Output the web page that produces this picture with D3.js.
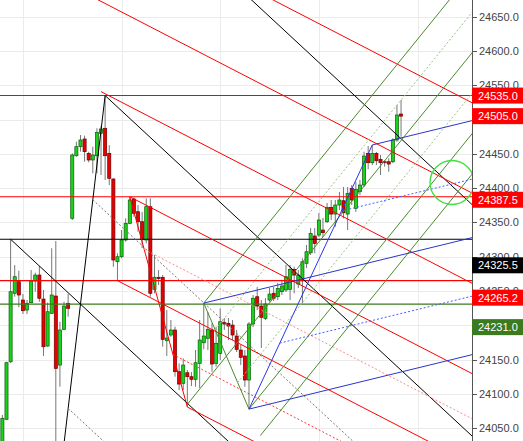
<!DOCTYPE html>
<html><head><meta charset="utf-8">
<script src="https://cdn.jsdelivr.net/npm/d3@7"></script>
<style>
html,body{margin:0;padding:0;background:#fff;}
svg{display:block;font-family:"Liberation Sans",Arial,sans-serif;}
</style></head><body>
<svg id="c" width="523" height="441"></svg>
<script>
// ---------- DATA ----------
const opens  = [24021.3,24063.1,24147.0,24246.8,24263.7,24237.0,24222.4,24233.1,24264.7,24273.4,24238.4,24169.9,24217.6,24242.8,24142.2,24194.3,24232.2,24356.1,24447.3,24460.5,24471.7,24450.8,24441.1,24447.3,24480.0,24487.3,24450.8,24413.4,24292.8,24300.1,24324.5,24348.8,24384.2,24365.7,24351.1,24324.5,24373.0,24252.6,24270.1,24270.1,24177.7,24186.0,24193.3,24132.5,24115.6,24131.0,24125.2,24121.4,24144.7,24174.7,24181.2,24193.3,24144.7,24159.3,24204.5,24203.0,24200.5,24184.5,24164.1,24155.4,24120.4,24202.0,24241.8,24228.2,24210.3,24237.0,24246.8,24241.8,24249.1,24251.6,24252.6,24281.7,24260.3,24267.2,24290.5,24305.9,24330.3,24331.7,24339.0,24351.1,24372.1,24362.3,24375.5,24381.7,24362.3,24399.8,24370.7,24394.9,24404.6,24450.8,24437.1,24450.8,24442.1,24438.6,24438.6,24438.6,24470.2,24508.1];
const highs  = [24069.4,24147.0,24325.5,24288.0,24279.7,24245.7,24237.0,24280.7,24276.8,24286.6,24251.6,24233.1,24312.4,24323.0,24205.4,24234.5,24245.7,24450.8,24467.7,24477.5,24476.5,24453.2,24460.5,24487.3,24490.6,24535.0,24462.9,24414.4,24305.1,24339.0,24356.1,24387.5,24386.4,24375.5,24365.3,24385.2,24385.2,24302.6,24280.7,24273.4,24222.4,24207.8,24198.1,24144.7,24152.0,24135.0,24132.0,24164.1,24207.8,24232.5,24219.5,24203.0,24198.1,24224.9,24210.7,24210.7,24207.8,24193.3,24171.4,24164.1,24204.9,24244.3,24255.9,24237.0,24239.9,24254.5,24255.9,24261.8,24266.1,24288.0,24288.0,24285.5,24280.7,24297.8,24317.2,24341.9,24341.9,24363.8,24356.5,24378.4,24382.8,24382.8,24394.4,24401.7,24401.7,24404.6,24409.0,24411.9,24453.2,24461.5,24463.0,24452.7,24448.4,24441.1,24443.5,24472.7,24521.2,24528.5];
const lows   = [24015.5,24062.1,24145.2,24241.8,24226.4,24216.6,24216.6,24232.2,24249.1,24234.5,24155.4,24168.9,24216.6,23927.0,24110.6,24193.3,24212.7,24353.6,24445.9,24453.2,24438.6,24437.7,24421.7,24421.7,24419.2,24411.9,24404.6,24285.5,24265.2,24297.8,24322.0,24347.3,24358.4,24336.6,24312.8,24319.6,24241.8,24246.8,24258.9,24168.9,24155.4,24183.5,24125.2,24105.8,24105.8,24081.0,24111.6,24110.6,24108.7,24165.1,24164.1,24132.5,24139.8,24149.5,24193.3,24178.7,24178.7,24161.2,24142.2,24110.6,24078.0,24197.6,24222.4,24167.0,24207.8,24234.5,24235.5,24237.0,24244.3,24248.7,24237.0,24246.8,24254.5,24232.2,24283.6,24302.6,24305.1,24328.8,24328.8,24349.2,24353.6,24343.8,24368.2,24356.1,24339.0,24375.5,24365.3,24390.0,24401.7,24427.5,24433.8,24433.8,24419.2,24431.3,24424.0,24436.3,24467.7,24475.0];
const closes = [24064.6,24145.6,24249.1,24271.0,24244.3,24221.4,24232.2,24264.7,24273.4,24239.5,24168.9,24219.9,24244.3,24137.4,24193.3,24228.2,24224.9,24448.4,24460.5,24470.2,24453.2,24441.1,24448.4,24481.4,24486.3,24447.3,24414.4,24295.3,24300.1,24324.5,24348.8,24382.8,24363.4,24351.1,24325.5,24373.0,24246.8,24270.1,24268.3,24179.7,24181.6,24193.3,24132.5,24114.5,24142.2,24125.2,24121.4,24145.6,24178.7,24184.5,24194.3,24143.7,24173.9,24205.4,24202.0,24199.1,24186.0,24165.1,24153.5,24120.4,24202.0,24239.5,24228.2,24211.8,24231.2,24245.7,24239.5,24254.0,24257.4,24271.0,24281.7,24273.4,24273.4,24292.8,24307.4,24334.2,24319.6,24353.6,24335.1,24372.1,24362.3,24375.5,24382.8,24364.2,24392.5,24382.8,24398.4,24404.6,24446.9,24437.1,24450.8,24440.0,24437.1,24437.1,24435.2,24470.2,24506.7,24505.0];

const yTicks = d3.range(24050, 24651, 50);
const gridBars = [5, 29, 53, 77, 101];

// horizontal levels
const hLevels = [24535, 24387.5, 24325.5, 24265.2, 24231];
const hColors = ["#ff0000", "#ff0000", "#000000", "#ff0000", "#3b7a1e"];

// price tags on axis
const tagValues = [24535.0, 24505.0, 24387.5, 24325.5, 24265.2, 24231.0];
const tagColors = ["#ff0000", "#ff0000", "#ff0000", "#000000", "#ff0000", "#3b7a1e"];

// pitchfork pivots: A, B, C as [barIndex, price]
const forkBlack = [[2, 24325.5], [25, 24535.0], [13, 23927.0]];
const forkRed   = [[28, 24265.2], [31, 24387.5], [45, 24081.0]];
const forkGreen = [[45, 24085.0], [49, 24232.5], [60, 24078.0]];
const forkBlue  = [[49, 24232.5], [90, 24463.0], [60, 24078.0]];

const circleCenter = [109.4, 24408.3];

// ---------- DRAW ----------
const W = 523, H = 441, plotR = 472;
const svg = d3.select("#c");
const x = d3.scaleLinear().domain([-0.58, 114.26]).range([0, plotR]);
const y = d3.scaleLinear().domain([24031.5, 24674.3]).range([H, 0]);

svg.append("defs").append("clipPath").attr("id", "plot")
  .append("rect").attr("x", 0).attr("y", 0).attr("width", plotR).attr("height", H);

const plot = svg.append("g").attr("clip-path", "url(#plot)");

// grid
plot.append("g").selectAll("line").data(yTicks).join("line")
  .attr("x1", 0).attr("x2", plotR)
  .attr("y1", d => Math.round(y(d)) + 0.5).attr("y2", d => Math.round(y(d)) + 0.5)
  .attr("stroke", "#ebebeb").attr("stroke-width", 1);
plot.append("g").selectAll("line").data(gridBars).join("line")
  .attr("y1", 0).attr("y2", H)
  .attr("x1", d => Math.round(x(d)) + 0.5).attr("x2", d => Math.round(x(d)) + 0.5)
  .attr("stroke", "#ebebeb").attr("stroke-width", 1);

// candles
const idx = d3.range(opens.length);
const cg = plot.append("g");
cg.selectAll("line.w").data(idx).join("line").attr("class", "w")
  .attr("x1", i => x(i)).attr("x2", i => x(i))
  .attr("y1", i => y(highs[i])).attr("y2", i => y(lows[i]))
  .attr("stroke", "#777").attr("stroke-width", 1);
const bw = 3.1;
cg.selectAll("rect").data(idx).join("rect")
  .attr("x", i => x(i) - bw / 2)
  .attr("width", bw)
  .attr("y", i => y(Math.max(opens[i], closes[i])))
  .attr("height", i => Math.max(1, Math.abs(y(opens[i]) - y(closes[i]))))
  .attr("fill", i => closes[i] >= opens[i] ? "#19d219" : "#e60000")
  .attr("stroke", i => closes[i] >= opens[i] ? "#0d5c0d" : "#6a0000")
  .attr("stroke-width", 0.7);

// horizontal lines
plot.append("g").selectAll("line").data(hLevels).join("line")
  .attr("x1", 0).attr("x2", plotR)
  .attr("y1", d => y(d)).attr("y2", d => y(d))
  .attr("stroke", (d, i) => hColors[i]).attr("stroke-width", 1.1);

// pitchforks
function drawFork(pts, levels, handleStyle) {
  const [A, B, C] = pts.map(([i, p]) => [x(i), y(p)]);
  const M = [(B[0] + C[0]) / 2, (B[1] + C[1]) / 2];
  const d = [M[0] - A[0], M[1] - A[1]];
  const g = plot.append("g");
  const seg = (P, Q, st) => g.append("line")
    .attr("x1", P[0]).attr("y1", P[1]).attr("x2", Q[0]).attr("y2", Q[1])
    .attr("stroke", st.c).attr("stroke-width", st.w || 1)
    .attr("stroke-dasharray", st.dash || null);
  seg(B, C, handleStyle);
  levels.forEach(lv => {
    const P = lv.k === 0 ? A : [M[0] + lv.k * (B[0] - M[0]), M[1] + lv.k * (B[1] - M[1])];
    const t = (plotR + 5 - P[0]) / d[0];
    seg(P, [P[0] + t * d[0], P[1] + t * d[1]], lv);
  });
}

drawFork(forkBlack, [
  {k: 2, c: "#000"}, {k: 1, c: "#000"}, {k: 0.5, c: "#777", dash: "2,2"},
  {k: 0, c: "#000"}, {k: -0.5, c: "#777", dash: "2,2"}, {k: -1, c: "#000"}
], {c: "#000"});

drawFork(forkRed, [
  {k: 4, c: "#ff0000"}, {k: 3, c: "#ff0000"}, {k: 2, c: "#ff0000"},
  {k: 1, c: "#ff0000"}, {k: 0.5, c: "#ff8c8c", dash: "2,2"},
  {k: 0, c: "#ff0000"}, {k: -0.5, c: "#ff3a3a", dash: "2,2"}, {k: -1, c: "#ff0000"}
], {c: "#ff0000"});

drawFork(forkGreen, [
  {k: 1, c: "#4a8a2c"}, {k: 0.5, c: "#95c483", dash: "2,2"},
  {k: 0, c: "#4a8a2c"}, {k: -0.5, c: "#95c483", dash: "2,2"},
  {k: -1, c: "#4a8a2c"}, {k: -1.5, c: "#4a8a2c"}
], {c: "#4a8a2c"});

drawFork(forkBlue, [
  {k: 1, c: "#2b35c8"}, {k: 0.5, c: "#4060ff", dash: "2,2"},
  {k: 0, c: "#2b35c8"}, {k: -0.5, c: "#4060ff", dash: "2,2"},
  {k: -1, c: "#2b35c8"}
], {c: "#2b35e8"});

// circle annotation
svg.append("circle")
  .attr("cx", x(circleCenter[0])).attr("cy", y(circleCenter[1])).attr("r", 22)
  .attr("fill", "none").attr("stroke", "#3fe03f").attr("stroke-width", 1.4);

// axis
const ax = svg.append("g");
ax.append("rect").attr("x", plotR).attr("y", 0).attr("width", W - plotR).attr("height", H).attr("fill", "#fff");
ax.append("line").attr("x1", plotR + 0.5).attr("x2", plotR + 0.5).attr("y1", 0).attr("y2", H)
  .attr("stroke", "#555").attr("stroke-width", 1);
const tk = ax.selectAll("g.t").data(yTicks).join("g").attr("class", "t")
  .attr("transform", d => `translate(0,${Math.round(y(d)) + 0.5})`);
tk.append("line").attr("x1", plotR).attr("x2", plotR + 5).attr("stroke", "#555");
tk.append("text").attr("x", plotR + 7).attr("dy", "0.35em")
  .attr("font-size", 11).attr("fill", "#444").text(d => d3.format(".1f")(d));

// tags (pixel nudges for label layout only)
const tagNudge = [0, 0, 3, 26, 17, 23];
const tg = ax.selectAll("g.tag").data(tagValues).join("g").attr("class", "tag")
  .attr("transform", (d, i) => `translate(0,${y(d) + tagNudge[i]})`);
tg.append("rect").attr("x", plotR).attr("y", -8).attr("width", W - plotR).attr("height", 16)
  .attr("fill", (d, i) => tagColors[i]);
tg.append("text").attr("x", plotR + 6).attr("dy", "0.36em")
  .attr("font-size", 11).attr("fill", "#fff").text(d => d3.format(".1f")(d));
</script>
</body></html>
